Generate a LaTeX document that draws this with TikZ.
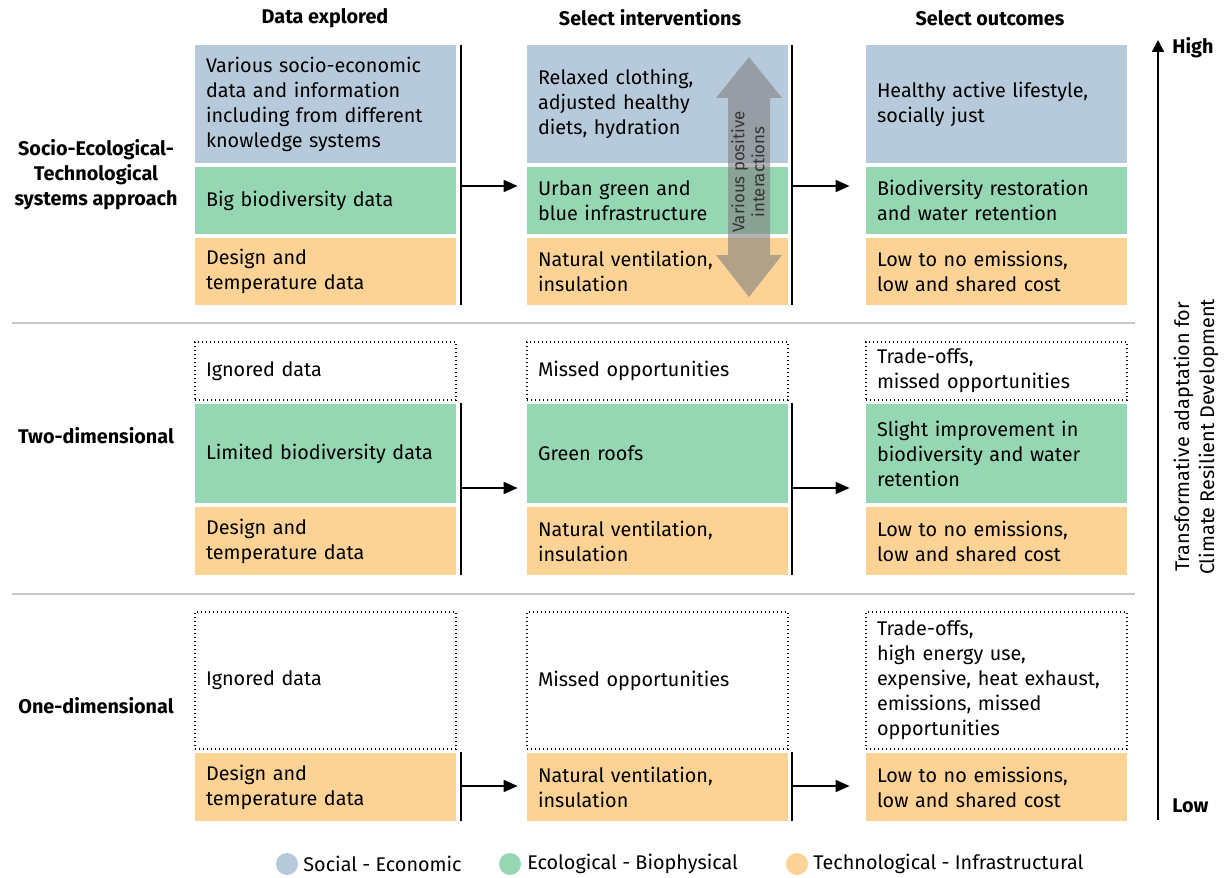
\documentclass[tikz,border=0pt]{standalone}
\usepackage{fontspec}
\setmainfont{Fira Sans}
\usetikzlibrary{arrows.meta}

\definecolor{socblue}{RGB}{183,202,219}
\definecolor{ecogreen}{RGB}{149,214,179}
\definecolor{techorange}{RGB}{252,211,149}
\definecolor{sepgray}{RGB}{200,200,200}

\tikzset{
  cell/.style={minimum width=130.5pt, text width=119.5pt, inner xsep=5.5pt, inner ysep=0pt,
    align=left, font=\fontsize{9.9}{12.5}\selectfont},
  soc/.style={cell, fill=socblue},
  eco/.style={cell, fill=ecogreen},
  tech/.style={cell, fill=techorange},
  missed/.style={cell, draw, line width=0.6pt, dash pattern=on 0.6pt off 1.4pt},
  bar/.style={line width=1pt},
  flow/.style={line width=0.8pt, -{Triangle[length=7pt, width=6pt]}},
  colhead/.style={font=\bfseries\fontsize{9.9}{12.5}\selectfont},
  rowlabel/.style={font=\bfseries\fontsize{9.9}{12.5}\selectfont, align=center},
  legdot/.style={circle, minimum size=11pt, inner sep=0pt},
  legtext/.style={anchor=west, inner sep=0pt, font=\fontsize{9.9}{12.5}\selectfont},
}

\begin{document}
\begin{tikzpicture}[x=0.5pt, y=-0.5pt]
\useasboundingbox (0,0) rectangle (1224,877);

% headers
\node[colhead] (h1) at (325,18) {Data explored};
\node[colhead] (h2) at (650,18) {Select interventions};
\node[colhead] (h3) at (990,18) {Select outcomes};

% row labels
\node[rowlabel] (r1) at (96,175) {Socio-Ecological-\\Technological\\systems approach};
\node[rowlabel] (r2) at (96,436) {Two-dimensional};
\node[rowlabel] (r3) at (96,706) {One-dimensional};

% separators
\draw[sepgray, line width=1pt] (12,323) -- (1135,323);
\draw[sepgray, line width=1pt] (12,594) -- (1135,594);

% row 1
\node[soc, minimum height=59pt] (d1s) at (325.5,104) {Various socio-economic\\data and information\\including from different\\knowledge systems};
\node[eco, minimum height=33.5pt] (d1e) at (325.5,200.5) {Big biodiversity data};
\node[tech, minimum height=33.5pt] (d1t) at (325.5,271.5) {Design and\\temperature data};
\node[soc, minimum height=59pt] (i1s) at (657.5,104) {Relaxed clothing,\\adjusted healthy\\diets, hydration};
\node[eco, minimum height=33.5pt] (i1e) at (657.5,200.5) {Urban green and\\blue infrastructure};
\node[tech, minimum height=33.5pt] (i1t) at (657.5,271.5) {Natural ventilation,\\insulation};
\node[soc, minimum height=59pt] (o1s) at (996.5,104) {Healthy active lifestyle,\\socially just};
\node[eco, minimum height=33.5pt] (o1e) at (996.5,200.5) {Biodiversity restoration\\and water retention};
\node[tech, minimum height=33.5pt] (o1t) at (996.5,271.5) {Low to no emissions,\\low and shared cost};

% interactions arrow
\fill[gray, opacity=0.6] (749,57) -- (782,98) -- (770,98) -- (770,255) -- (782,255) -- (749,297)
  -- (716,255) -- (728,255) -- (728,98) -- (716,98) -- cycle;
\node[rotate=90, align=center, inner sep=0pt, text=black!80, font=\fontsize{8.4}{10}\selectfont] (vpi) at (748,172) {Various positive\\interactions};

\draw[bar] (461,45) -- (461,305);
\draw[bar] (792,45) -- (792,305);
\coordinate (b1) at (461,186);
\coordinate (c1) at (792,186);
\draw[flow, shorten >=4.5pt] (b1) -- (b1 -| i1e.west);
\draw[flow, shorten >=8pt] (c1) -- (c1 -| o1e.west);

% row 2
\node[missed, minimum height=29pt] (d2m) at (325.5,371) {Ignored data};
\node[eco, minimum height=49.5pt] (d2e) at (325.5,453.5) {Limited biodiversity data};
\node[tech, minimum height=34pt] (d2t) at (325.5,541) {Design and\\temperature data};
\node[missed, minimum height=29pt] (i2m) at (657.5,371) {Missed opportunities};
\node[eco, minimum height=49.5pt] (i2e) at (657.5,453.5) {Green roofs};
\node[tech, minimum height=34pt] (i2t) at (657.5,541) {Natural ventilation,\\insulation};
\node[missed, minimum height=29pt] (o2m) at (996.5,371) {Trade-offs,\\missed opportunities};
\node[eco, minimum height=49.5pt] (o2e) at (996.5,453.5) {Slight improvement in\\biodiversity and water\\retention};
\node[tech, minimum height=34pt] (o2t) at (996.5,541) {Low to no emissions,\\low and shared cost};

\draw[bar] (461,403) -- (461,575);
\draw[bar] (792,403) -- (792,575);
\coordinate (b2) at (461,488);
\coordinate (c2) at (792,488);
\draw[flow, shorten >=4.5pt] (b2) -- (b2 -| i2e.west);
\draw[flow, shorten >=8pt] (c2) -- (c2 -| o2e.west);

% row 3
\node[missed, minimum height=68.5pt] (d3m) at (325.5,680.5) {Ignored data};
\node[tech, minimum height=34pt] (d3t) at (325.5,787) {Design and\\temperature data};
\node[missed, minimum height=68.5pt] (i3m) at (657.5,680.5) {Missed opportunities};
\node[tech, minimum height=34pt] (i3t) at (657.5,787) {Natural ventilation,\\insulation};
\node[missed, minimum height=68.5pt] (o3m) at (996.5,680.5) {Trade-offs,\\high energy use,\\expensive, heat exhaust,\\emissions, missed\\opportunities};
\node[tech, minimum height=34pt] (o3t) at (996.5,787) {Low to no emissions,\\low and shared cost};

\draw[bar] (461,752) -- (461,821);
\draw[bar] (792,752) -- (792,821);
\coordinate (b3) at (461,786);
\coordinate (c3) at (792,786);
\draw[flow, shorten >=4.5pt] (b3) -- (b3 -| i3t.west);
\draw[flow, shorten >=8pt] (c3) -- (c3 -| o3t.west);

% scale axis
\coordinate (lo) at (1158,820);
\coordinate (hi) at (1158,40);
\draw[line width=1pt, -{Triangle[length=6pt, width=6pt]}] (lo) -- (hi);
\node[legtext, font=\bfseries\fontsize{9.9}{12.5}\selectfont] (high) at (1172,48) {High};
\node[legtext, font=\bfseries\fontsize{9.9}{12.5}\selectfont] (low) at (1172,806) {Low};
\node[rotate=90, align=center, inner sep=0pt, font=\fontsize{9.9}{12.5}\selectfont] (tacrd) at (1196,437) {Transformative adaptation for\\Climate Resilient Development};

% legend
\node[legdot, fill=socblue] (k1) at (287,864) {};
\node[legtext] (k1t) at (303,864) {Social - Economic};
\node[legdot, fill=ecogreen] (k2) at (510,864) {};
\node[legtext] (k2t) at (527,864) {Ecological - Biophysical};
\node[legdot, fill=techorange] (k3) at (797,864) {};
\node[legtext] (k3t) at (813,864) {Technological - Infrastructural};
\end{tikzpicture}
\end{document}
